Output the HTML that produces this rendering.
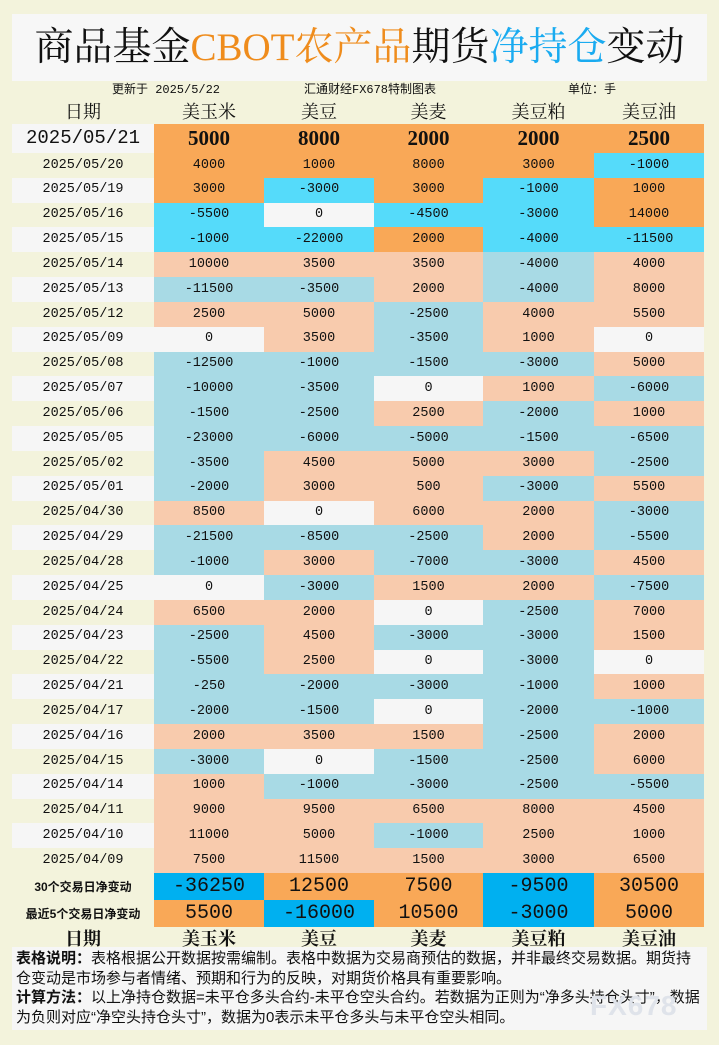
<!DOCTYPE html>
<html><head><meta charset="utf-8">
<style>
*{margin:0;padding:0;box-sizing:border-box}
body{width:719px;height:1045px;background:#f3f3dc;position:relative;overflow:hidden;font-family:"Liberation Serif","Noto Serif CJK SC",serif;color:#111}
.title{position:absolute;left:12px;top:14px;width:695px;height:67px;background:#f7f7f7;text-align:center;font-size:39px;line-height:67px;font-family:"Liberation Serif","Noto Serif CJK SC",serif}
.o{color:#ef8c1c}.b{color:#1aabf0}
.info{position:absolute;top:81px;height:18px;font-size:12px;line-height:18px;font-family:"Liberation Mono","Noto Sans CJK SC",monospace}
table{position:absolute;left:12px;border-collapse:collapse;table-layout:fixed}
td{padding:0;text-align:center;white-space:nowrap;overflow:hidden;line-height:1}
.hd td{font-size:18px;height:24px;font-family:"Liberation Serif","Noto Serif CJK SC",serif}
.d td{height:24.83px;font-size:13.5px;font-family:"Liberation Mono","Noto Sans CJK SC",monospace}
.w{background:#f6f6f6}
.p{background:#f8cbad}.n{background:#a8dae5}.z{background:#f6f6f6}
.P{background:#f9a857}.N{background:#55dbfa}.B{background:#00b0f0}
.big td{font-size:21px;font-weight:bold;height:29px}
.sum td{height:27px;font-size:20px;font-family:"Liberation Mono",monospace}
.sum td:first-child{font-size:12px;font-weight:bold;font-family:"Liberation Sans","Noto Sans CJK SC",sans-serif}
.note{position:absolute;left:12px;top:947px;width:695px;height:83px;background:#f6f6f6;font-size:15px;line-height:19.5px;padding:2px 4px;font-family:"Liberation Sans","Noto Sans CJK SC",sans-serif}
.wm{position:absolute;left:590px;top:990px;font-size:28px;color:#dfe3ea;font-family:"Liberation Sans",sans-serif;font-weight:bold;letter-spacing:1px}
</style></head><body>
<div class="title">商品基金<span class="o">CBOT农产品</span>期货<span class="b">净持仓</span>变动</div>
<div class="info" style="left:112px">更新于 2025/5/22</div>
<div class="info" style="left:304px">汇通财经FX678特制图表</div>
<div class="info" style="left:568px">单位：手</div>
<table style="top:100px">
<colgroup><col style="width:142px"><col style="width:110px"><col style="width:110px"><col style="width:109px"><col style="width:111px"><col style="width:110px"></colgroup>
<tr class="hd"><td>日期</td><td>美玉米</td><td>美豆</td><td>美麦</td><td>美豆粕</td><td>美豆油</td></tr>
<tr class="big"><td class="w" style="font-weight:normal;font-family:'Liberation Mono',monospace;font-size:19px">2025/05/21</td><td class="P">5000</td><td class="P">8000</td><td class="P">2000</td><td class="P">2000</td><td class="P">2500</td></tr>
</table>
<table style="top:153px">
<colgroup><col style="width:142px"><col style="width:110px"><col style="width:110px"><col style="width:109px"><col style="width:111px"><col style="width:110px"></colgroup>
<tr class="d"><td>2025/05/20</td><td class="P">4000</td><td class="P">1000</td><td class="P">8000</td><td class="P">3000</td><td class="N">-1000</td></tr>
<tr class="d"><td class="w">2025/05/19</td><td class="P">3000</td><td class="N">-3000</td><td class="P">3000</td><td class="N">-1000</td><td class="P">1000</td></tr>
<tr class="d"><td>2025/05/16</td><td class="N">-5500</td><td class="z">0</td><td class="N">-4500</td><td class="N">-3000</td><td class="P">14000</td></tr>
<tr class="d"><td class="w">2025/05/15</td><td class="N">-1000</td><td class="N">-22000</td><td class="P">2000</td><td class="N">-4000</td><td class="N">-11500</td></tr>
<tr class="d"><td>2025/05/14</td><td class="p">10000</td><td class="p">3500</td><td class="p">3500</td><td class="n">-4000</td><td class="p">4000</td></tr>
<tr class="d"><td class="w">2025/05/13</td><td class="n">-11500</td><td class="n">-3500</td><td class="p">2000</td><td class="n">-4000</td><td class="p">8000</td></tr>
<tr class="d"><td>2025/05/12</td><td class="p">2500</td><td class="p">5000</td><td class="n">-2500</td><td class="p">4000</td><td class="p">5500</td></tr>
<tr class="d"><td class="w">2025/05/09</td><td class="z">0</td><td class="p">3500</td><td class="n">-3500</td><td class="p">1000</td><td class="z">0</td></tr>
<tr class="d"><td>2025/05/08</td><td class="n">-12500</td><td class="n">-1000</td><td class="n">-1500</td><td class="n">-3000</td><td class="p">5000</td></tr>
<tr class="d"><td class="w">2025/05/07</td><td class="n">-10000</td><td class="n">-3500</td><td class="z">0</td><td class="p">1000</td><td class="n">-6000</td></tr>
<tr class="d"><td>2025/05/06</td><td class="n">-1500</td><td class="n">-2500</td><td class="p">2500</td><td class="n">-2000</td><td class="p">1000</td></tr>
<tr class="d"><td class="w">2025/05/05</td><td class="n">-23000</td><td class="n">-6000</td><td class="n">-5000</td><td class="n">-1500</td><td class="n">-6500</td></tr>
<tr class="d"><td>2025/05/02</td><td class="n">-3500</td><td class="p">4500</td><td class="p">5000</td><td class="p">3000</td><td class="n">-2500</td></tr>
<tr class="d"><td class="w">2025/05/01</td><td class="n">-2000</td><td class="p">3000</td><td class="p">500</td><td class="n">-3000</td><td class="p">5500</td></tr>
<tr class="d"><td>2025/04/30</td><td class="p">8500</td><td class="z">0</td><td class="p">6000</td><td class="p">2000</td><td class="n">-3000</td></tr>
<tr class="d"><td class="w">2025/04/29</td><td class="n">-21500</td><td class="n">-8500</td><td class="n">-2500</td><td class="p">2000</td><td class="n">-5500</td></tr>
<tr class="d"><td>2025/04/28</td><td class="n">-1000</td><td class="p">3000</td><td class="n">-7000</td><td class="n">-3000</td><td class="p">4500</td></tr>
<tr class="d"><td class="w">2025/04/25</td><td class="z">0</td><td class="n">-3000</td><td class="p">1500</td><td class="p">2000</td><td class="n">-7500</td></tr>
<tr class="d"><td>2025/04/24</td><td class="p">6500</td><td class="p">2000</td><td class="z">0</td><td class="n">-2500</td><td class="p">7000</td></tr>
<tr class="d"><td class="w">2025/04/23</td><td class="n">-2500</td><td class="p">4500</td><td class="n">-3000</td><td class="n">-3000</td><td class="p">1500</td></tr>
<tr class="d"><td>2025/04/22</td><td class="n">-5500</td><td class="p">2500</td><td class="z">0</td><td class="n">-3000</td><td class="z">0</td></tr>
<tr class="d"><td class="w">2025/04/21</td><td class="n">-250</td><td class="n">-2000</td><td class="n">-3000</td><td class="n">-1000</td><td class="p">1000</td></tr>
<tr class="d"><td>2025/04/17</td><td class="n">-2000</td><td class="n">-1500</td><td class="z">0</td><td class="n">-2000</td><td class="n">-1000</td></tr>
<tr class="d"><td class="w">2025/04/16</td><td class="p">2000</td><td class="p">3500</td><td class="p">1500</td><td class="n">-2500</td><td class="p">2000</td></tr>
<tr class="d"><td>2025/04/15</td><td class="n">-3000</td><td class="z">0</td><td class="n">-1500</td><td class="n">-2500</td><td class="p">6000</td></tr>
<tr class="d"><td class="w">2025/04/14</td><td class="p">1000</td><td class="n">-1000</td><td class="n">-3000</td><td class="n">-2500</td><td class="n">-5500</td></tr>
<tr class="d"><td>2025/04/11</td><td class="p">9000</td><td class="p">9500</td><td class="p">6500</td><td class="p">8000</td><td class="p">4500</td></tr>
<tr class="d"><td class="w">2025/04/10</td><td class="p">11000</td><td class="p">5000</td><td class="n">-1000</td><td class="p">2500</td><td class="p">1000</td></tr>
<tr class="d"><td>2025/04/09</td><td class="p">7500</td><td class="p">11500</td><td class="p">1500</td><td class="p">3000</td><td class="p">6500</td></tr>
</table>
<table style="top:873px">
<colgroup><col style="width:142px"><col style="width:110px"><col style="width:110px"><col style="width:109px"><col style="width:111px"><col style="width:110px"></colgroup>
<tr class="sum"><td>30个交易日净变动</td><td class="B">-36250</td><td class="P">12500</td><td class="P">7500</td><td class="B">-9500</td><td class="P">30500</td></tr>
<tr class="sum"><td>最近5个交易日净变动</td><td class="P">5500</td><td class="B">-16000</td><td class="P">10500</td><td class="B">-3000</td><td class="P">5000</td></tr>
<tr class="hd"><td style="font-weight:bold;height:20px">日期</td><td style="font-weight:bold">美玉米</td><td style="font-weight:bold">美豆</td><td style="font-weight:bold">美麦</td><td style="font-weight:bold">美豆粕</td><td style="font-weight:bold">美豆油</td></tr>
</table>
<div class="note"><b>表格说明：</b>表格根据公开数据按需编制。表格中数据为交易商预估的数据，并非最终交易数据。期货持仓变动是市场参与者情绪、预期和行为的反映，对期货价格具有重要影响。<br><b>计算方法：</b>以上净持仓数据=未平仓多头合约-未平仓空头合约。若数据为正则为“净多头持仓头寸”，数据为负则对应“净空头持仓头寸”，数据为0表示未平仓多头与未平仓空头相同。</div>
<div class="wm">FX678</div>
</body></html>
